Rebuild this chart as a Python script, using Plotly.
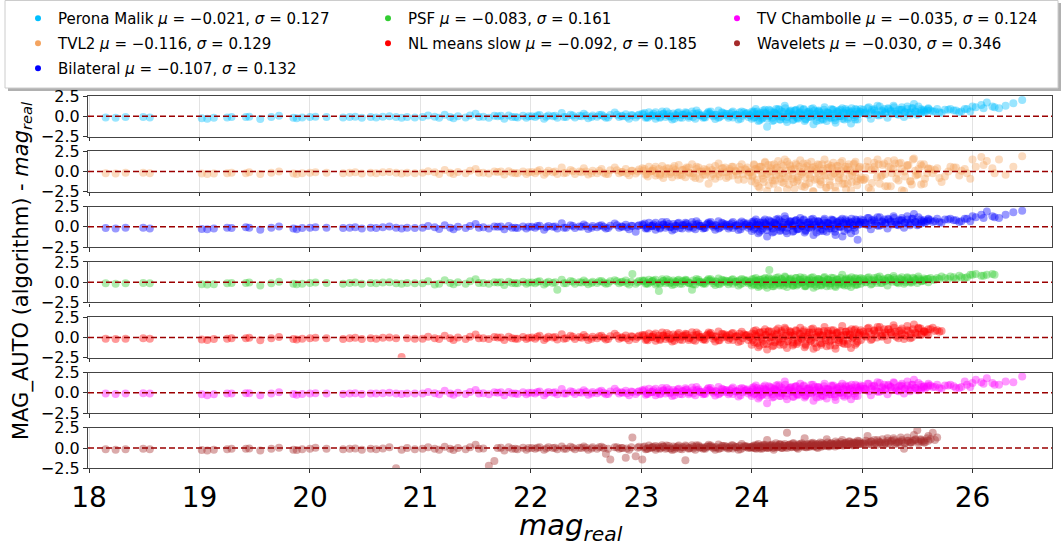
import plotly.graph_objects as go

# ---------------- data ----------------
mag_real = [
    18.15, 18.24, 18.33, 18.49, 18.55,
    19.02, 19.07, 19.13, 19.25, 19.29, 19.42, 19.45, 19.55, 19.65, 19.72, 19.85, 19.88, 19.93, 20.0, 20.05, 20.15,
    20.3, 20.36, 20.41, 20.47, 20.55, 20.6, 20.66, 20.72, 20.78, 20.83, 20.88, 20.95,
    21.02, 21.07, 21.13, 21.17, 21.22, 21.27, 21.3, 21.34, 21.41, 21.45, 21.5, 21.53, 21.62, 21.67, 21.7, 21.76, 21.8, 21.83, 21.88, 21.93, 21.96, 22.01,
    22.04, 22.08, 22.12, 22.16, 22.2, 22.24, 22.28, 22.32, 22.36, 22.4, 22.44, 22.48, 22.52, 22.56, 22.6, 22.64, 22.68, 22.72, 22.76, 22.8,
    22.83, 22.86, 22.89, 22.92, 22.95, 22.98,
    23.01, 23.04, 23.07, 23.1, 23.13, 23.16, 23.19, 23.22, 23.25, 23.28, 23.31, 23.34, 23.37, 23.4, 23.43, 23.46, 23.49, 23.52, 23.55, 23.58,
    23.61, 23.64, 23.67, 23.7, 23.73, 23.76, 23.79, 23.82, 23.85, 23.88, 23.91, 23.94, 23.97,
    24.0, 24.02, 24.04, 24.06, 24.08, 24.1, 24.12, 24.14, 24.16, 24.18, 24.2, 24.22, 24.24, 24.26, 24.28, 24.3, 24.32, 24.34, 24.36, 24.38,
    24.4, 24.42, 24.44, 24.46, 24.48, 24.5, 24.52, 24.54, 24.56, 24.58, 24.6, 24.62, 24.64, 24.66, 24.68, 24.7, 24.72, 24.74, 24.76, 24.78,
    24.8, 24.82, 24.84, 24.86, 24.88, 24.9, 24.92, 24.94, 24.96, 24.98,
    25.02, 25.05, 25.08, 25.11, 25.14, 25.17, 25.2, 25.23, 25.26, 25.29, 25.32, 25.35, 25.38, 25.41, 25.44, 25.47, 25.5, 25.53, 25.56, 25.6,
    25.64, 25.68, 25.72, 25.78, 25.83, 25.88, 25.93, 25.98, 26.03, 26.08, 26.13, 26.18, 26.24, 26.3, 26.37, 26.45,
    # second batch of sources
    21.57, 21.73, 21.86, 21.98, 22.06, 22.14, 22.22, 22.3, 22.38, 22.46,
    22.5, 22.55, 22.62, 22.66, 22.7, 22.78, 22.82, 22.87, 22.91, 22.97,
    23.02, 23.05, 23.08, 23.11, 23.14, 23.17, 23.2, 23.23, 23.26, 23.29, 23.32, 23.35, 23.38, 23.41, 23.44, 23.47, 23.5, 23.53, 23.56, 23.59,
    23.62, 23.65, 23.68, 23.71, 23.74, 23.77, 23.8, 23.83, 23.86, 23.89, 23.92, 23.95, 23.98,
    24.01, 24.03, 24.05, 24.07, 24.09, 24.11, 24.13, 24.15, 24.17, 24.19, 24.21, 24.23, 24.25, 24.27, 24.29, 24.31, 24.33, 24.35, 24.37, 24.39,
    24.41, 24.43, 24.45, 24.47, 24.49, 24.51, 24.53, 24.55, 24.57, 24.59, 24.61, 24.63, 24.65, 24.67, 24.69, 24.71, 24.73, 24.75, 24.77, 24.79,
    24.81, 24.83, 24.85, 24.87, 24.89, 24.91, 24.93, 24.95, 24.97, 24.99,
    25.03, 25.06, 25.09, 25.12, 25.15, 25.18, 25.21, 25.24, 25.27, 25.3, 25.33, 25.36, 25.39, 25.42, 25.45, 25.48, 25.51, 25.54, 25.57, 25.6,
    25.66, 25.75, 25.85, 25.95, 26.1,
    # third batch of sources
    23.03, 23.06, 23.1, 23.13, 23.17, 23.2, 23.23, 23.27, 23.3, 23.33,
    23.37, 23.4, 23.43, 23.47, 23.5, 23.53, 23.57, 23.6, 23.63, 23.67,
    23.7, 23.73, 23.77, 23.8, 23.83, 23.87, 23.9, 23.93, 23.96, 23.99,
    24.005, 24.022, 24.038, 24.055, 24.072, 24.088, 24.105, 24.122, 24.138, 24.155,
    24.172, 24.188, 24.205, 24.222, 24.238, 24.255, 24.272, 24.288, 24.305, 24.322,
    24.338, 24.355, 24.372, 24.388, 24.405, 24.422, 24.438, 24.455, 24.472, 24.488,
    24.505, 24.522, 24.538, 24.555, 24.572, 24.588, 24.605, 24.622, 24.638, 24.655,
    24.672, 24.688, 24.705, 24.722, 24.738, 24.755, 24.772, 24.788, 24.805, 24.822,
    24.838, 24.855, 24.872, 24.888, 24.905, 24.922, 24.938, 24.955, 24.972, 24.988,
    25.01, 25.035, 25.06, 25.085, 25.11, 25.135, 25.16, 25.185, 25.21, 25.235,
    25.26, 25.285, 25.31, 25.335, 25.36, 25.385, 25.41, 25.435, 25.46, 25.485,
    25.51, 25.535, 25.56, 25.59,
    25.62, 25.7, 25.8, 25.9, 26.0, 26.2,
]

delta_perona = [
    -0.15, -0.2, -0.1, -0.1, -0.15,
    -0.25, -0.3, -0.2, -0.15, -0.1, -0.1, -0.05, -0.35, -0.1, 0.05, -0.2, -0.25, -0.15, -0.1, -0.05, -0.1,
    -0.15, -0.1, -0.05, -0.2, -0.1, -0.15, -0.05, 0.0, -0.1, -0.2, -0.1, -0.15,
    -0.1, 0.1, -0.05, -0.2, 0.2, -0.1, -0.25, 0.0, -0.15, 0.1, 0.3, -0.1, -0.2, 0.05, 0.0, -0.3, 0.1, -0.1, -0.15, 0.05, -0.2, 0.0,
    -0.1, 0.15, -0.3, 0.1, 0.0, -0.2, 0.4, -0.1, 0.2, -0.15, 0.05, 0.3, -0.25, 0.1, -0.05, 0.2, -0.2, 0.15, 0.45, -0.1, 0.0, 0.25, -0.3, 0.1, -0.15, 0.2,
    0.3, -0.2, 0.5, 0.1, -0.3, 0.2, 0.6, -0.1, 0.35, -0.4, 0.15, 0.5, -0.2, 0.25, 0.0, 0.6, -0.3, 0.4, 0.1, -0.15,
    0.55, 0.2, -0.35, 0.7, 0.05, 0.3, -0.2, 0.45, 0.15, -0.4, 0.6, 0.25, -0.1,
    -0.3, 0.6, 0.2, -0.6, 0.4, -0.2, 0.8, -1.3, 0.1, 0.5, -0.5, 0.3, 0.9, -0.4, 0.0, 1.3, -0.7, 0.6, 0.2, -0.4,
    0.7, -0.3, 1.0, 0.1, -0.6, 0.5, -0.1, 0.9, -1.0, 0.3, 0.6, -0.5, 0.2, 1.1, -0.6, 0.4, -0.2, 0.8, -0.8, 0.5,
    0.0, 1.0, -0.4, 0.3, 0.7, -0.9, 0.2, 0.9, -0.4, 0.6,
    0.4, 1.0, -0.3, 0.7, 1.3, 0.2, 0.9, -0.2, 0.6, 1.1, 0.3, 0.8, -0.1, 1.2, 0.5, 1.5, 0.2, 0.9, 0.6, 1.0,
    0.6, 0.9, 0.4, 0.8, 0.7, 0.5, 0.9, 0.6, 1.1, 1.4, 1.7, 1.2, 1.0, 1.3, 1.6, 2.0,
    -0.05, 0.05, -0.1, 0.0, 0.1, -0.05, 0.05, -0.1, 0.1, 0.0,
    0.1, -0.1, 0.15, 0.0, -0.15, 0.2, 0.05, -0.05, 0.15, 0.1,
    0.2, -0.1, 0.1, 0.3, 0.0, -0.2, 0.25, 0.15, -0.05, 0.35, 0.1, -0.15, 0.2, 0.4, 0.05, -0.1, 0.3, 0.15, -0.2, 0.25,
    0.35, 0.0, 0.2, -0.1, 0.4, 0.1, 0.3, -0.15, 0.2, 0.45, 0.05, 0.3, 0.15,
    0.4, -0.1, 0.6, 0.2, -0.3, 0.5, 0.3, 0.0, 0.7, -0.2, 0.4, 0.2, 0.8, -0.1, 0.5, -0.4, 0.3, 0.6, 0.1, 0.7,
    -0.2, 0.4, 0.2, 0.8, -0.3, 0.5, 0.3, 0.0, 0.7, -0.1, 0.6, 0.2, -0.4, 0.5, 0.4, 0.1, 0.8, -0.2, 0.3, 0.7,
    0.0, 0.5, 0.9, -0.3, 0.4, 0.6, -0.1, 0.8, 0.3, 0.5,
    0.5, 0.2, 0.8, 0.4, 0.1, 0.7, 0.5, 0.9, 0.3, 0.6, 0.2, 0.8, 0.5, 0.4, 1.0, 0.6, 0.3, 0.7, 0.5, 0.9,
    0.6, 0.8, 0.7, 0.9, 1.0,
    0.4, -0.2, 0.1, 0.5, -0.1, 0.3, 0.6, 0.0, -0.3, 0.4,
    0.2, 0.5, -0.2, 0.3, 0.7, 0.1, -0.1, 0.4, 0.6, 0.2,
    -0.2, 0.5, 0.3, 0.0, 0.6, 0.2, -0.3, 0.5, 0.4, 0.1,
    0.6, -0.2, 0.9, 0.3, -0.5, 0.1, 0.7, 0.4, -0.3, 0.8,
    0.2, -0.6, 0.5, 0.9, 0.0, -0.4, 0.6, 0.3, 1.0, -0.1,
    0.4, 0.7, -0.5, 0.2, 0.8, -0.2, 0.5, 0.1, 0.9, -0.4,
    0.3, 0.6, -0.1, 1.0, 0.2, -0.6, 0.7, 0.4, -0.3, 0.8,
    0.1, 0.5, -0.2, 0.9, 0.3, -0.5, 0.6, 0.0, 0.8, -0.3,
    0.4, 0.7, -0.1, 0.5, 1.0, 0.2, -0.4, 0.6, 0.3, 0.9,
    0.8, 0.3, 1.1, 0.5, 0.9, 0.2, 1.2, 0.6, 0.4, 1.0,
    0.7, 1.3, 0.3, 0.8, 1.1, 0.5, 0.9, 0.2, 1.0, 0.6,
    1.2, 0.4, 0.8, 0.7,
    0.7, 0.5, 0.9, 0.6, 1.2, 1.1,
]

delta_tvl2 = [
    -0.2, -0.25, -0.15, -0.15, -0.2,
    -0.25, -0.3, -0.25, -0.2, -0.15, -0.2, -0.1, -0.3, -0.15, 0.0, -0.25, -0.3, -0.2, -0.15, -0.1, -0.15,
    -0.2, -0.15, -0.1, -0.25, -0.15, -0.2, -0.1, -0.05, -0.15, -0.25, -0.15, -0.2,
    -0.15, 0.05, -0.1, -0.3, 0.2, -0.15, -0.3, -0.05, -0.2, 0.1, 0.3, -0.15, -0.25, 0.0, -0.05, -0.35, 0.05, -0.15, -0.2, 0.0, -0.3, -0.05,
    -0.2, 0.2, -0.4, 0.1, -0.1, -0.3, 0.5, -0.15, 0.2, -0.3, 0.0, 0.4, -0.35, 0.1, -0.2, 0.3, -0.3, 0.15, 0.5, -0.2, -0.05, 0.3, -0.45, 0.1, -0.25, 0.25,
    0.4, -0.4, 0.6, 0.1, -0.5, 0.3, 0.7, -0.3, 0.4, -0.7, 0.2, 0.8, -0.5, 0.3, -0.1, 0.9, -0.8, 0.5, 0.0, -0.4,
    -1.5, 0.2, -0.9, 1.0, -0.1, 0.5, -0.6, 0.6, 0.1, -1.0, 0.9, 0.3, -0.5,
    -1.2, 0.9, 0.3, -1.8, 0.6, -0.5, 1.2, -2.4, 0.0, 0.8, -1.5, 0.4, 1.3, -0.9, -0.2, 1.5, -2.2, 0.9, 0.2, -1.3,
    1.0, -0.7, 1.4, -0.1, -1.9, 0.7, -0.4, 1.2, -2.5, 0.3, 0.9, -1.1, 0.1, 1.5, -2.0, 0.5, -0.6, 1.1, -2.4, 0.7,
    -0.3, 1.3, -1.5, 0.2, 0.9, -2.3, 0.0, 1.2, -0.9, 0.6,
    -1.0, 1.3, -2.3, 0.6, 1.5, -0.6, 1.0, -1.8, 0.4, 1.4, -0.2, 1.1, -2.4, 0.8, -1.2, 1.6, -0.4, 0.9, -1.5, 0.3,
    -0.2, 0.4, -1.3, 0.0, 0.5, -0.5, 0.3, -0.9, 0.6, 1.8, 1.3, 0.4, 1.5, -0.4, 0.6, 1.9,
    -0.15, 0.0, -0.2, -0.1, 0.05, -0.15, 0.0, -0.2, 0.05, -0.1,
    0.0, -0.2, 0.1, -0.15, -0.3, 0.15, -0.05, -0.2, 0.1, 0.0,
    0.1, -0.3, 0.0, 0.3, -0.2, -0.5, 0.2, 0.0, -0.3, 0.4, -0.1, -0.4, 0.2, 0.5, -0.2, -0.6, 0.3, 0.0, -0.4, 0.2,
    0.5, -0.3, 0.1, -0.6, 0.4, -0.1, 0.3, -0.5, 0.0, 0.6, -0.3, 0.2, -0.1,
    -0.5, 0.3, -1.0, 0.6, -0.2, -1.3, 0.2, 0.8, -0.7, 0.0, -1.1, 0.5, -0.4, 0.9, -1.4, 0.1, -0.6, 0.7, -0.9, 0.3,
    -1.2, 0.6, -0.3, 1.0, -1.6, 0.2, -0.8, 0.5, -1.0, 0.0, 0.8, -1.3, 0.3, -0.5, 0.9, -1.7, 0.4, -0.2, 0.7, -1.1,
    0.1, -0.8, 0.6, -1.5, 0.2, -0.4, 1.0, -1.2, 0.3, -0.7,
    -0.8, 0.5, -1.4, 0.2, 0.9, -0.5, -1.8, 0.6, -0.2, 1.0, -1.1, 0.3, -0.6, 0.8, -1.6, 0.1, -0.3, 0.7, -0.9, 0.4,
    0.2, -0.6, 0.5, -0.2, 0.8,
    0.3, -0.6, 0.1, 0.6, -0.3, -0.8, 0.4, -0.1, 0.7, -0.5,
    0.2, -0.7, 0.5, -0.2, 0.6, -0.9, 0.3, 0.0, -0.6, 0.7,
    -0.3, 0.4, -0.8, 0.1, 0.6, -0.4, 0.2, -1.0, 0.5, -0.1,
    -0.6, 0.8, -1.4, 0.2, -2.0, 0.6, -0.9, 1.1, -0.3, -1.7,
    0.4, -1.1, 0.9, -0.5, -2.3, 0.1, -1.3, 0.7, -0.8, 1.2,
    -1.6, 0.3, -0.4, -2.1, 0.8, -1.0, 0.0, -1.8, 0.5, -0.7,
    1.0, -1.4, 0.2, -2.4, 0.6, -0.9, -0.2, -1.6, 0.9, -0.5,
    -2.0, 0.4, -1.2, 0.7, -0.3, -1.9, 0.1, -0.8, 1.1, -1.5,
    0.3, -2.2, 0.6, -0.6, -1.3, 0.9, -0.1, -1.7, 0.5, -1.0,
    -1.0, 0.6, -2.0, 0.2, 1.1, -0.7, -1.5, 0.8, -0.3, 1.3,
    -1.8, 0.4, -0.9, 1.0, -2.3, 0.0, 0.7, -1.2, 1.5, -0.5,
    0.3, -1.6, 0.9, -0.2,
    0.3, -0.8, 0.6, 0.1, 1.5, -0.2,
]

delta_bilateral = [
    -0.15, -0.2, -0.1, -0.1, -0.2,
    -0.25, -0.3, -0.2, -0.1, -0.15, -0.05, -0.1, -0.35, -0.1, 0.05, -0.2, -0.3, -0.15, -0.1, -0.05, -0.1,
    -0.15, -0.1, -0.05, -0.2, -0.1, -0.15, -0.05, 0.05, -0.1, -0.2, -0.1, -0.15,
    -0.1, 0.1, -0.05, -0.25, 0.2, -0.1, -0.3, 0.0, -0.15, 0.1, 0.35, -0.1, -0.2, 0.05, 0.0, -0.3, 0.1, -0.1, -0.15, 0.05, -0.2, 0.0,
    -0.1, 0.15, -0.35, 0.1, 0.0, -0.2, 0.45, -0.1, 0.2, -0.15, 0.05, 0.3, -0.25, 0.1, -0.05, 0.2, -0.2, 0.15, 0.4, -0.1, 0.0, 0.25, -0.3, 0.1, -0.6, 0.2,
    0.3, -0.2, 0.5, 0.1, -0.35, 0.2, 0.6, -0.1, 0.35, -0.45, 0.15, 0.5, -0.2, 0.25, 0.0, 0.6, -0.3, 0.4, 0.1, -0.15,
    0.55, 0.2, -0.35, 0.7, 0.05, 0.3, -0.2, 0.45, 0.15, -0.4, 0.65, 0.25, -0.1,
    -0.5, 0.7, 0.2, -0.8, 0.5, -0.2, 0.9, -1.2, 0.1, 0.6, -0.6, 0.3, 1.0, -0.4, 0.0, 1.3, -0.8, 0.7, 0.2, -0.5,
    0.8, -0.3, 1.1, 0.1, -0.7, 0.5, -0.1, 0.9, -1.0, 0.3, 0.7, -0.5, 0.2, 1.0, -0.6, 0.4, -0.2, 0.8, -1.0, 0.5,
    0.0, 1.0, -0.5, 0.3, 0.7, -0.8, 0.2, 0.9, -1.6, 0.6,
    0.5, 1.1, -0.3, 0.7, 1.2, 0.2, 0.9, -0.2, 0.6, 1.1, 0.3, 0.8, -0.1, 1.3, 0.5, 1.6, 0.2, 0.9, 0.6, 1.0,
    0.6, 1.0, 0.5, 0.9, 0.8, 0.6, 1.0, 0.7, 1.2, 1.5, 1.9, 1.3, 1.1, 1.5, 1.8, 2.0,
    -0.05, 0.05, -0.1, 0.0, 0.1, -0.05, 0.05, -0.1, 0.1, 0.0,
    0.1, -0.1, 0.15, 0.0, -0.15, 0.2, 0.05, -0.05, 0.15, 0.1,
    0.2, -0.1, 0.1, 0.3, 0.0, -0.2, 0.25, 0.15, -0.05, 0.35, 0.1, -0.15, 0.2, 0.4, 0.05, -0.1, 0.3, 0.15, -0.2, 0.25,
    0.35, 0.0, 0.2, -0.1, 0.4, 0.1, 0.3, -0.15, 0.2, 0.45, 0.05, 0.3, 0.15,
    0.4, -0.1, 0.6, 0.2, -0.4, 0.5, 0.3, 0.0, 0.7, -0.2, 0.4, 0.2, 0.8, -0.1, 0.5, -0.5, 0.3, 0.6, 0.1, 0.7,
    -0.3, 0.4, 0.2, 0.8, -0.4, 0.5, 0.3, 0.0, 0.7, -0.1, 0.6, 0.2, -0.5, 0.5, 0.4, 0.1, 0.8, -0.2, 0.3, 0.7,
    0.0, 0.5, 0.9, -0.3, 0.4, 0.6, -0.1, 0.8, 0.3, 0.5,
    0.5, 0.2, 0.8, 0.4, 0.1, 0.7, 0.5, 0.9, 0.3, 0.6, 0.2, 0.8, 0.5, 0.4, 1.0, 0.6, 0.3, 0.7, 0.5, 0.9,
    0.7, 0.9, 0.8, 1.0, 1.1,
    0.4, -0.2, 0.1, 0.5, -0.1, 0.3, 0.6, 0.0, -0.3, 0.4,
    0.2, 0.5, -0.2, 0.3, 0.7, 0.1, -0.1, 0.4, 0.6, 0.2,
    -0.2, 0.5, 0.3, 0.0, 0.6, 0.2, -0.3, 0.5, 0.4, 0.1,
    0.6, -0.3, 0.9, 0.3, -0.6, 0.1, 0.7, 0.4, -0.4, 0.8,
    0.2, -0.7, 0.5, 0.9, 0.0, -0.5, 0.6, 0.3, 1.0, -0.1,
    0.4, 0.7, -0.6, 0.2, 0.8, -0.2, 0.5, 0.1, 0.9, -0.5,
    0.3, 0.6, -0.1, 1.0, 0.2, -0.7, 0.7, 0.4, -0.3, 0.8,
    0.1, 0.5, -0.2, 0.9, 0.3, -0.6, 0.6, 0.0, 0.8, -1.2,
    0.4, 0.7, -0.1, 0.5, 1.0, 0.2, -0.5, 0.6, 0.3, 0.9,
    0.8, 0.3, 1.1, 0.5, 0.9, 0.2, 1.2, 0.6, 0.4, 1.0,
    0.7, 1.3, 0.3, 0.8, 1.1, 0.5, 0.9, 0.2, 1.0, 0.6,
    1.2, 0.4, 0.8, 0.7,
    0.8, 0.6, 1.0, 0.7, 1.3, 1.2,
]

delta_psf = [
    -0.15, -0.2, -0.15, -0.1, -0.15,
    -0.25, -0.3, -0.25, -0.15, -0.1, -0.1, -0.05, -0.4, -0.15, 0.05, -0.2, -0.25, -0.2, -0.1, -0.05, -0.1,
    -0.2, -0.1, -0.05, -0.2, -0.1, -0.15, -0.05, 0.0, -0.15, -0.2, -0.1, -0.15,
    -0.15, 0.1, -0.3, -0.2, 0.25, -0.1, -0.25, 0.0, -0.2, 0.1, 0.35, -0.1, -0.2, 0.0, -0.05, -0.35, 0.05, -0.1, -0.15, 0.05, -0.2, -0.05,
    -0.15, 0.1, -0.3, 0.05, -0.1, -0.95, 0.3, -0.15, 0.15, -0.2, 0.0, 0.2, -0.25, 0.05, -0.1, 0.15, -0.2, 0.1, 0.25, -0.15, 0.05, 0.2, -0.3, 1.0, -0.2, 0.15,
    0.2, -0.2, 0.3, 0.1, -0.3, -1.1, 0.35, -0.15, 0.25, -0.35, 0.05, 0.3, -0.2, 0.15, -0.05, -0.95, -0.3, 0.3, 0.0, -0.2,
    0.4, 0.1, -0.35, 0.45, -0.05, 0.2, -0.25, 0.3, 0.05, -0.4, 0.4, 0.15, -0.15,
    -0.4, 0.4, 0.1, -0.6, 0.3, -0.2, 0.5, -0.7, 1.5, 0.35, -0.5, 0.2, 0.6, -0.3, -0.05, 0.7, -0.6, 0.4, 0.1, -0.4,
    0.5, -0.2, 0.6, 0.0, -0.5, 0.3, -0.1, 0.55, -0.7, 0.2, 0.4, -0.35, 0.1, 0.65, -0.5, 0.25, -0.15, 0.5, -0.6, 0.3,
    -0.05, 0.9, -0.4, 0.2, 0.45, -0.6, 0.1, 0.5, -0.3, 0.35,
    0.2, 0.5, -0.3, 0.3, 0.6, -0.1, 0.4, -0.4, 0.25, 0.5, 0.0, 0.35, -0.2, 0.6, 0.15, 0.45, -0.1, 0.3, 0.2, 0.4,
    0.3, 0.5, 0.7, 0.4, 0.6, 0.8, 0.5, 0.9, 1.0, 0.8, 0.9, 1.0, None, None, None, None,
    -0.1, 0.0, -0.15, -0.05, 0.05, -0.1, 0.0, -0.15, 0.05, -0.05,
    0.0, -0.1, 0.1, -0.05, -0.15, 0.1, 0.0, -0.1, 0.05, 0.0,
    0.1, -0.15, 0.0, 0.2, -0.1, -0.2, 0.15, 0.05, -0.15, 0.2, 0.0, -0.2, 0.1, 0.25, -0.1, -0.25, 0.15, 0.0, -0.2, 0.1,
    0.2, -0.15, 0.05, -0.25, 0.2, 0.0, 0.15, -0.2, 0.05, 0.25, -0.1, 0.1, 0.0,
    -0.2, 0.15, -0.35, 0.3, 0.0, -0.4, 0.1, 0.35, -0.25, 0.05, -0.3, 0.2, -0.1, 0.4, -0.45, 0.0, -0.2, 0.3, -0.3, 0.1,
    -0.4, 0.25, -0.05, 0.35, -0.5, 0.1, -0.25, 0.2, -0.3, 0.0, 0.3, -0.4, 0.1, -0.15, 0.35, -0.45, 0.15, -0.05, 0.25, -0.3,
    0.05, -0.2, 0.3, -0.4, 0.1, -0.1, 0.35, -0.3, 0.15, -0.2,
    0.0, 0.3, -0.2, 0.15, 0.4, -0.1, 0.2, 0.5, 0.05, 0.3, -0.15, 0.25, 0.0, 0.35, -0.05, 0.2, 0.45, 0.1, 0.3, 0.0,
    0.3, 0.5, 0.4, 0.6, 0.8,
    0.2, -0.2, 0.1, 0.3, -0.1, 0.15, 0.35, 0.0, -0.25, 0.2,
    0.1, 0.3, -0.15, 0.2, 0.4, 0.05, -0.1, 0.25, 0.35, 0.1,
    -0.2, 0.3, 0.15, 0.0, 0.35, 0.1, -0.25, 0.3, 0.2, 0.05,
    0.35, -0.3, 0.5, 0.1, -0.45, 0.0, 0.4, 0.2, -0.35, 0.55,
    0.1, -0.5, 0.3, 0.5, -0.1, -0.4, 0.35, 0.15, 0.6, -0.2,
    0.2, 0.45, -0.45, 0.05, 0.5, -0.25, 0.3, 0.0, 0.55, -0.4,
    0.15, 0.35, -0.15, 0.6, 0.1, -0.5, 0.4, 0.2, -0.3, 0.5,
    0.0, 0.3, -0.2, 0.55, 0.15, -0.45, 0.35, -0.05, 0.5, -0.3,
    0.2, 0.45, -0.1, 0.3, 0.6, 0.05, -0.35, 0.4, 0.15, 0.5,
    0.4, 0.0, 0.6, 0.2, 0.5, -0.1, 0.7, 0.3, 0.1, 0.55,
    0.35, 0.75, 0.0, 0.45, 0.6, 0.2, 0.5, -0.05, 0.55, 0.3,
    0.7, 0.15, 0.45, 0.4,
    0.5, 0.4, 0.7, 0.6, 0.9, 0.9,
]

delta_nlmeans = [
    -0.15, -0.2, -0.15, -0.1, -0.15,
    -0.25, -0.3, -0.2, -0.15, -0.1, -0.1, -0.05, -0.35, -0.1, 0.05, -0.2, -0.25, -0.15, -0.1, -0.05, -0.1,
    -0.2, -0.1, -0.05, -0.2, -0.1, -0.15, -0.05, 0.0, -0.1, -2.4, -0.1, -0.15,
    -0.15, 0.1, -0.1, -0.2, 0.2, -0.1, -0.3, 0.0, -0.2, 0.1, 0.35, -0.1, -0.2, 0.05, 0.0, -0.3, 0.1, -0.1, -0.15, 0.05, -0.2, 0.0,
    -0.15, 0.2, -0.3, 0.1, 0.0, -0.25, 0.4, -0.1, 0.2, -0.2, 0.05, 0.3, -0.3, 0.1, -0.1, 0.2, -0.25, 0.15, 0.45, -0.15, 0.0, 0.25, -0.35, 0.1, -0.2, 0.2,
    0.3, -0.3, 0.5, 0.1, -0.4, 0.2, 0.6, -0.2, 0.35, -0.5, 0.15, 0.55, -0.3, 0.25, -0.1, 0.65, -0.4, 0.4, 0.05, -0.3,
    0.6, 0.2, -0.5, 0.75, 0.0, 0.35, -0.3, 0.5, 0.1, -0.55, 0.7, 0.25, -0.3,
    -0.9, 0.8, 0.2, -1.2, 0.6, -0.4, 1.0, -1.5, 0.0, 0.7, -1.0, 0.3, 1.1, -0.6, -0.1, 1.2, -1.3, 0.8, 0.2, -0.8,
    0.9, -0.4, 1.2, 0.1, -1.2, 0.6, -0.2, 1.0, -1.4, 0.3, 0.8, -0.7, 0.2, 1.3, -1.1, 0.5, -0.3, 0.9, -1.4, 0.6,
    -0.1, 1.4, -0.8, 0.3, 0.8, -1.3, 0.1, 1.0, -0.5, 0.6,
    0.4, 1.1, -0.3, 0.8, 1.3, 0.2, 1.0, -0.3, 0.6, 1.2, 0.3, 0.9, -0.2, 1.4, 0.5, 1.6, 0.3, 1.1, 0.7, 1.0,
    1.2, 0.9, 0.8, None, None, None, None, None, None, None, None, None, None, None, None, None,
    -0.1, 0.0, -0.15, -0.05, 0.1, -0.1, 0.05, -0.15, 0.1, -0.05,
    0.05, -0.15, 0.15, -0.05, -0.2, 0.2, 0.0, -0.1, 0.15, 0.05,
    0.15, -0.2, 0.05, 0.3, -0.1, -0.3, 0.25, 0.1, -0.2, 0.35, 0.0, -0.25, 0.2, 0.4, -0.05, -0.3, 0.3, 0.1, -0.25, 0.2,
    0.4, -0.15, 0.15, -0.35, 0.4, 0.05, 0.3, -0.3, 0.15, 0.45, -0.1, 0.25, 0.05,
    -0.3, 0.4, -0.7, 0.6, 0.0, -0.8, 0.3, 0.7, -0.5, 0.1, -0.6, 0.5, -0.2, 0.8, -0.9, 0.2, -0.4, 0.6, -0.6, 0.3,
    -0.8, 0.5, -0.1, 0.7, -1.0, 0.3, -0.5, 0.6, -0.7, 0.1, 0.7, -0.9, 0.3, -0.3, 0.8, -1.0, 0.4, -0.2, 0.6, -0.6,
    0.2, -0.4, 0.7, -0.8, 0.3, -0.1, 0.9, -0.7, 0.4, -0.3,
    0.2, 0.7, -0.2, 0.5, 0.9, 0.1, 0.6, 1.0, 0.3, 0.7, -0.1, 0.5, 0.2, 0.8, 0.0, 0.6, 1.1, 0.4, 0.7, 0.3,
    0.8, None, None, None, None,
    0.3, -0.35, 0.05, 0.5, -0.2, 0.2, 0.55, -0.1, -0.4, 0.35,
    0.1, 0.45, -0.3, 0.25, 0.6, 0.0, -0.2, 0.35, 0.55, 0.1,
    -0.35, 0.45, 0.2, -0.1, 0.55, 0.15, -0.45, 0.4, 0.3, 0.0,
    0.5, -0.6, 0.9, 0.1, -1.0, -0.2, 0.7, 0.3, -0.8, 0.8,
    0.0, -1.1, 0.4, 0.9, -0.4, -0.9, 0.6, 0.2, 1.0, -0.5,
    0.3, 0.7, -1.0, 0.0, 0.8, -0.6, 0.4, -0.2, 0.9, -0.8,
    0.1, 0.6, -0.4, 1.1, 0.0, -1.2, 0.6, 0.3, -0.7, 0.8,
    -0.1, 0.5, -0.5, 0.9, 0.2, -1.0, 0.5, -0.3, 0.8, -0.7,
    0.3, 0.7, -0.4, 0.4, 1.0, 0.0, -0.9, 0.6, 0.2, 0.9,
    0.7, 0.1, 1.2, 0.4, 0.9, 0.0, 1.3, 0.5, 0.2, 1.0,
    0.6, 1.5, 0.1, 0.8, 1.1, 0.3, 0.9, -0.1, 1.0, 0.5,
    1.2, 0.3, 0.8, 0.6,
    1.0, 0.7, None, None, None, None,
]

delta_tv = [
    -0.1, -0.15, -0.1, -0.05, -0.1,
    -0.2, -0.3, -0.2, -0.1, -0.1, -0.05, -0.05, -0.3, -0.1, 0.05, -0.15, -0.25, -0.15, -0.1, -0.05, -0.1,
    -0.15, -0.1, -0.05, -0.15, -0.1, -0.1, -0.05, 0.0, -0.1, -0.15, -0.1, -0.1,
    -0.1, 0.1, -0.05, -0.2, 0.25, -0.1, -0.25, 0.0, -0.15, 0.1, 0.35, -0.1, -0.2, 0.05, 0.0, -0.3, 0.1, -0.1, -0.15, 0.05, -0.2, 0.0,
    -0.1, 0.15, -0.3, 0.1, 0.0, -0.2, 0.45, -0.1, 0.2, -0.15, 0.05, 0.3, -0.25, 0.1, -0.05, 0.25, -0.2, 0.15, 0.5, -0.1, 0.0, 0.25, -0.3, 0.1, -0.15, 0.2,
    0.3, -0.25, 0.5, 0.1, -0.3, 0.2, 0.6, -0.1, 0.4, -0.4, 0.15, 0.5, -0.2, 0.3, 0.0, 0.65, -0.3, 0.4, 0.1, -0.15,
    0.6, 0.2, -0.35, 0.7, 0.05, 0.35, -0.2, 0.5, 0.15, -0.45, 0.6, 0.25, -0.1,
    -0.4, 0.7, 0.2, -0.7, 0.5, -0.2, 0.9, -1.3, 0.1, 0.6, -0.5, 0.3, 1.0, -0.4, 0.0, 1.4, -0.8, 0.6, 0.2, -0.5,
    0.8, -0.3, 1.1, 0.1, -0.6, 0.5, -0.1, 1.0, -1.0, 0.3, 0.7, -0.5, 0.2, 1.1, -0.7, 0.4, -0.2, 0.9, -0.9, 0.5,
    0.0, 1.1, -0.5, 0.3, 0.8, -0.8, 0.2, 1.0, -0.4, 0.7,
    0.5, 1.1, -0.3, 0.8, 1.3, 0.2, 1.0, -0.2, 0.7, 1.2, 0.3, 0.9, -0.1, 1.4, 0.6, 1.6, 0.3, 1.0, 0.7, 1.1,
    0.7, 1.0, 0.5, 0.9, 0.8, 0.6, 1.4, 0.7, 1.6, 1.3, 1.8, 1.2, 1.0, 1.4, 1.3, 2.0,
    -0.05, 0.05, -0.1, 0.0, 0.1, -0.05, 0.05, -0.1, 0.1, 0.0,
    0.1, -0.1, 0.15, 0.0, -0.15, 0.2, 0.05, -0.05, 0.15, 0.1,
    0.2, -0.1, 0.1, 0.3, 0.0, -0.2, 0.25, 0.15, -0.05, 0.35, 0.1, -0.15, 0.2, 0.4, 0.05, -0.1, 0.3, 0.15, -0.2, 0.25,
    0.35, 0.0, 0.2, -0.1, 0.4, 0.1, 0.3, -0.15, 0.2, 0.45, 0.05, 0.3, 0.15,
    0.4, -0.1, 0.6, 0.2, -0.3, 0.5, 0.3, 0.0, 0.7, -0.2, 0.4, 0.2, 0.8, -0.1, 0.5, -0.4, 0.3, 0.6, 0.1, 0.7,
    -0.2, 0.4, 0.2, 0.8, -0.3, 0.5, 0.3, 0.0, 0.7, -0.1, 0.6, 0.2, -0.4, 0.5, 0.4, 0.1, 0.8, -0.2, 0.3, 0.7,
    0.0, 0.5, 0.9, -0.3, 0.4, 0.6, -0.1, 0.8, 0.3, 0.5,
    0.5, 0.2, 0.8, 0.4, 0.1, 0.7, 0.5, 0.9, 0.3, 0.6, 0.2, 0.8, 0.5, 0.4, 1.0, 0.6, 0.3, 0.7, 0.5, 0.9,
    0.7, 0.9, 0.6, 1.0, 1.1,
    0.4, -0.15, 0.1, 0.5, -0.1, 0.3, 0.6, 0.05, -0.3, 0.4,
    0.2, 0.55, -0.2, 0.3, 0.7, 0.1, -0.1, 0.45, 0.6, 0.2,
    -0.2, 0.5, 0.3, 0.0, 0.65, 0.2, -0.3, 0.5, 0.4, 0.1,
    0.6, -0.2, 0.9, 0.3, -0.5, 0.1, 0.7, 0.4, -0.3, 0.8,
    0.2, -0.6, 0.5, 0.9, 0.0, -0.4, 0.6, 0.3, 1.0, -0.1,
    0.4, 0.7, -0.5, 0.2, 0.8, -0.2, 0.5, 0.1, 0.9, -0.4,
    0.3, 0.6, -0.1, 1.0, 0.2, -0.6, 0.7, 0.4, -0.3, 0.8,
    0.1, 0.5, -0.2, 0.9, 0.3, -0.5, 0.6, 0.0, 0.8, -0.3,
    0.4, 0.7, -0.1, 0.5, 1.0, 0.2, -0.4, 0.6, 0.3, 0.9,
    0.8, 0.3, 1.1, 0.5, 0.9, 0.2, 1.2, 0.6, 0.4, 1.0,
    0.7, 1.3, 0.3, 0.8, 1.1, 0.5, 0.9, 0.2, 1.0, 0.6,
    1.2, 0.4, 0.8, 0.7,
    0.9, 0.6, 1.0, 0.7, 1.2, 1.0,
]

delta_wavelets = [
    -0.15, -0.2, -0.15, -0.1, -0.15,
    -0.25, -0.3, -0.2, -0.15, -0.1, -0.1, -0.05, -0.3, -0.1, 0.05, -0.2, -0.25, -0.15, -0.1, 0.05, -0.1,
    -0.15, -0.1, -0.05, -0.2, -0.1, -0.15, -0.05, 0.1, -2.5, -0.2, 0.0, -0.15,
    -0.1, 0.1, -0.1, -0.2, 0.15, -0.1, -0.25, 0.0, -0.15, 0.1, 0.4, -0.1, -2.2, -1.6, 0.0, -0.3, 0.1, -0.1, -0.15, 0.05, -0.2, 0.0,
    -0.1, 0.1, -0.2, 0.1, 0.0, -0.15, 0.2, -0.1, 0.15, -0.15, 0.05, 0.2, -0.2, 0.1, -0.1, 0.15, -0.7, -1.4, 0.1, -0.1, 0.0, -1.2, -0.2, 1.3, -1.0, 0.15,
    -1.4, -0.15, 0.3, 0.1, -0.2, 0.15, 0.35, -0.1, 0.25, -0.25, 0.1, 0.3, -0.15, -1.5, 0.0, 0.35, -0.2, 0.3, 0.1, -0.1,
    0.4, 0.15, -0.2, 0.45, 0.05, 0.25, -0.1, 0.35, 0.15, -0.2, 0.5, 0.2, 0.0,
    0.1, 0.3, -0.1, 0.5, 0.2, 0.0, 0.4, 1.0, 0.1, 0.3, -0.2, 0.6, 0.2, 0.4, 0.0, 0.5, 1.9, 0.3, 0.1, 0.6,
    0.2, -0.1, 0.5, 0.3, 1.2, 0.1, 0.4, 0.6, 0.2, 0.5, 0.0, 0.7, 0.3, 0.4, 1.1, 0.2, 0.6, 0.4, 0.8, 0.3,
    0.5, 1.0, 0.6, 0.4, 0.8, 0.5, 0.7, 0.6, 0.9, 0.5,
    0.6, 1.5, 0.8, 0.5, 1.0, 0.7, 0.4, 1.2, 0.8, 1.0, 0.6, 1.3, -0.1, 0.9, 0.7, 1.6, 2.2, 1.1, 0.9, 1.5,
    1.9, 1.3, None, None, None, None, None, None, None, None, None, None, None, None, None, None,
    -0.05, 0.05, -0.1, 0.0, 0.05, -0.05, 0.05, -0.1, 0.05, 0.0,
    0.05, -0.05, 0.1, 0.0, -0.1, 0.1, 0.0, -0.05, 0.1, 0.05,
    0.1, -0.1, 0.05, 0.15, 0.0, -0.1, 0.15, 0.05, -0.05, 0.2, 0.05, -0.1, 0.1, 0.2, 0.0, -0.05, 0.15, 0.1, -0.1, 0.15,
    0.2, 0.0, 0.1, -0.05, 0.25, 0.05, 0.15, -0.05, 0.1, 0.25, 0.05, 0.2, 0.1,
    0.15, 0.0, 0.3, 0.1, -0.1, 0.25, 0.1, 0.0, 0.35, 0.05, 0.2, 0.1, 0.4, 0.0, 0.25, 0.1, 0.3, 0.45, 0.15, 0.3,
    0.05, 0.35, 0.2, 0.4, 0.1, 0.3, 0.2, 0.5, 0.25, 0.4, 0.3, 0.15, 0.45, 0.35, 0.25, 0.5, 0.3, 0.4, 0.55, 0.35,
    0.45, 0.3, 0.6, 0.4, 0.5, 0.35, 0.55, 0.45, 0.6, 0.5,
    0.5, 0.7, 0.4, 0.6, 0.8, 0.5, 0.7, 0.6, 0.9, 0.5, 0.7, 0.8, 0.6, 0.9, 0.7, 1.0, 0.6, 0.8, 0.7, 0.9,
    1.0, None, None, None, None,
    0.2, -0.1, 0.05, 0.25, 0.0, 0.15, 0.3, -0.05, -0.15, 0.2,
    0.1, 0.3, -0.1, 0.15, 0.35, 0.05, 0.0, 0.2, 0.3, 0.1,
    -0.1, 0.25, 0.15, 0.0, 0.3, 0.1, -0.15, 0.25, 0.2, 0.05,
    0.2, 0.0, 0.35, 0.1, -0.05, 0.25, 0.4, 0.15, 0.0, 0.3,
    0.2, 0.45, 0.05, 0.3, 0.15, 0.5, 0.1, 0.35, 0.25, 0.0,
    0.4, 0.2, 0.55, 0.3, 0.1, 0.45, 0.25, 0.6, 0.15, 0.35,
    0.5, 0.2, 0.4, 0.65, 0.3, 0.1, 0.5, 0.35, 0.6, 0.25,
    0.45, 0.7, 0.3, 0.55, 0.4, 0.2, 0.6, 0.45, 0.75, 0.35,
    0.5, 0.65, 0.4, 0.8, 0.55, 0.35, 0.7, 0.5, 0.85, 0.6,
    0.6, 0.9, 0.5, 0.8, 1.0, 0.4, 0.7, 1.1, 0.6, 0.9,
    0.5, 1.2, 0.7, 0.8, 1.0, 0.6, 1.3, 0.7, 0.9, 1.1,
    0.8, 1.0, 0.7, 1.2,
    1.1, None, None, None, None, None,
]

algorithm_names = [
    "Perona Malik <i>μ</i> = −0.021, <i>σ</i> = 0.127",
    "TVL2 <i>μ</i> = −0.116, <i>σ</i> = 0.129",
    "Bilateral <i>μ</i> = −0.107, <i>σ</i> = 0.132",
    "PSF <i>μ</i> = −0.083, <i>σ</i> = 0.161",
    "NL means slow <i>μ</i> = −0.092, <i>σ</i> = 0.185",
    "TV Chambolle <i>μ</i> = −0.035, <i>σ</i> = 0.124",
    "Wavelets <i>μ</i> = −0.030, <i>σ</i> = 0.346",
]
series = [delta_perona, delta_tvl2, delta_bilateral, delta_psf, delta_nlmeans, delta_tv, delta_wavelets]
colors = ["#00bfff", "#f4a460", "#0000ff", "#32cd32", "#ff0000", "#ff00ff", "#a52a2a"]
legend_ids = ["legend", "legend", "legend", "legend2", "legend2", "legend3", "legend3"]
x_ticks = [18, 19, 20, 21, 22, 23, 24, 25, 26]
y_ticks = [-2.5, 0.0, 2.5]
y_ticktext = ["−2.5", "0.0", "2.5"]

for s in series:
    assert len(s) == len(mag_real), (len(s), len(mag_real))

# ---------------- figure ----------------
W, H = 1062, 545
FONT = "DejaVu Sans"
fig = go.Figure()

left_px, right_px = 88, 1052
top0, step, ph = 96, 55.3, 40.5

layout = dict(
    width=W, height=H, margin=dict(l=0, r=0, t=0, b=0, autoexpand=False),
    paper_bgcolor="white", plot_bgcolor="white",
    font=dict(family=FONT, color="black"),
    showlegend=True,
)

for k in range(7):
    idx = "" if k == 0 else str(k + 1)
    top = top0 + step * k
    bot = top + ph
    last = (k == 6)
    layout["xaxis" + idx] = dict(
        domain=[left_px / W, right_px / W], anchor="y" + idx,
        range=[17.99, 26.72], matches=None if k == 0 else "x",
        tickvals=x_ticks, ticktext=[str(t) for t in x_ticks],
        showticklabels=last, ticks="outside", ticklen=3.5, tickcolor="#333",
        tickfont=dict(size=28, family=FONT, color="black"),
        showgrid=True, gridcolor="#e3e3e3", gridwidth=1, zeroline=False,
        showline=True, linecolor="#444", linewidth=1.2, mirror=True,
        automargin=False,
    )
    layout["yaxis" + idx] = dict(
        domain=[1 - bot / H, 1 - top / H], anchor="x" + idx,
        range=[-2.5, 2.5], tickvals=y_ticks, ticktext=y_ticktext,
        ticks="outside", ticklen=4, tickcolor="#333",
        tickfont=dict(size=16, family=FONT, color="black"),
        showgrid=False, zeroline=False,
        showline=True, linecolor="#444", linewidth=1.2, mirror=True,
        automargin=False,
    )

fig.update_layout(**layout)

for k, (ys, name, col, lg) in enumerate(zip(series, algorithm_names, colors, legend_ids)):
    idx = "" if k == 0 else str(k + 1)
    fig.add_trace(go.Scatter(
        x=mag_real, y=ys, mode="markers", xaxis="x" + idx, yaxis="y" + idx,
        marker=dict(color=col, size=8, opacity=0.4, line=dict(width=0)),
        showlegend=False, hoverinfo="skip",
    ))
    # legend entry with opaque marker
    fig.add_trace(go.Scatter(
        x=[None], y=[None], mode="markers", xaxis="x" + idx, yaxis="y" + idx,
        marker=dict(color=col, size=6), name=name, legend=lg,
        legendgroup=f"g{k}", showlegend=True,
    ))
    fig.add_shape(type="line", xref=f"x{idx} domain", yref=f"y{idx}",
                  x0=0, x1=1, y0=0, y1=0,
                  line=dict(color="#9b0000", width=1.5, dash="6px,3px"), layer="above")

leg_common = dict(orientation="v", xanchor="left", yanchor="top",
                  bgcolor="rgba(0,0,0,0)", borderwidth=0,
                  font=dict(size=15, family=FONT, color="black"),
                  tracegroupgap=2.5, itemsizing="trace")
fig.update_layout(
    legend=dict(x=18 / W, y=1 - 2 / H, **leg_common),
    legend2=dict(x=368 / W, y=1 - 2 / H, **leg_common),
    legend3=dict(x=717 / W, y=1 - 2 / H, **leg_common),
)

# legend frame with shadow
fig.add_shape(type="rect", xref="paper", yref="paper",
              x0=8 / W, x1=1061 / W, y0=1 - 91 / H, y1=1 - 3 / H,
              line=dict(width=0), fillcolor="#b0b0b0", layer="below")
fig.add_shape(type="rect", xref="paper", yref="paper",
              x0=5 / W, x1=1058 / W, y0=1 - 88 / H, y1=1 - 0.5 / H,
              line=dict(width=1, color="#cccccc"), fillcolor="white", layer="below")

# axis titles
fig.add_annotation(text="MAG_AUTO (algorithm) - <i>mag</i><sub><i>real</i></sub>",
                   xref="paper", yref="paper", x=22 / W, y=1 - 271 / H,
                   textangle=-90, showarrow=False, xanchor="center", yanchor="middle",
                   font=dict(size=21, family=FONT, color="black"))
fig.add_annotation(text="<i>mag</i><sub><i>real</i></sub>",
                   xref="paper", yref="paper", x=571 / W, y=1 - 527 / H,
                   showarrow=False, xanchor="center", yanchor="middle",
                   font=dict(size=29, family=FONT, color="black"))

fig.write_html("out.html")
